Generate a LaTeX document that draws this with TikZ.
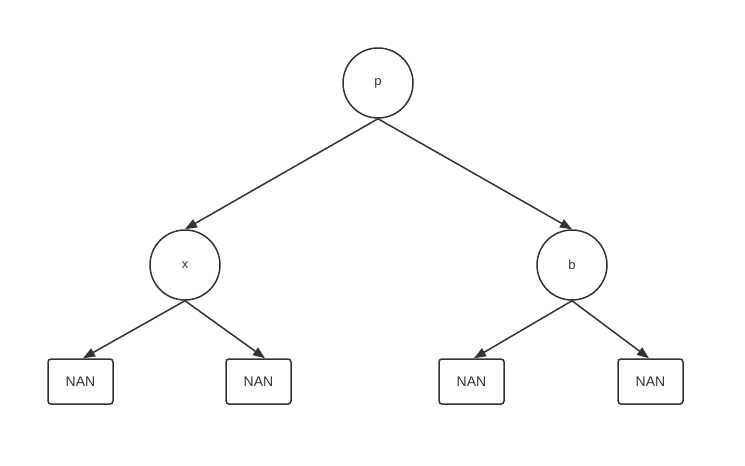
\documentclass[tikz,border=0pt]{standalone}
\usepackage{fontspec}
\setmainfont{Liberation Sans}
\usetikzlibrary{arrows.meta}
\definecolor{ink}{HTML}{333333}

\begin{document}
\begin{tikzpicture}[x=1pt, y=-1pt, line width=1.5pt, draw=ink, text=ink,
	vertex/.style={circle, draw=ink, minimum size=70pt, inner sep=0pt, font=\fontsize{13}{15}\selectfont},
	leaf/.style={rectangle, draw=ink, rounded corners=3pt, minimum width=65pt, minimum height=45pt, inner sep=0pt, font=\fontsize{14}{16}\selectfont},
	edge/.style={ink, -{Triangle[length=12pt,width=9pt]}}]
	\useasboundingbox (0,0) rectangle (745,466);
	
\node[vertex] (P) at (378,83) {p};
\node[vertex] (X) at (185,265) {x};
\node[vertex] (B) at (572,265) {b};
	
\node[leaf] (N1) at (80.5,381.5) {NAN};
\node[leaf] (N2) at (258.5,381.5) {NAN};
\node[leaf] (N3) at (471.5,381.5) {NAN};
\node[leaf] (N4) at (650.5,381.5) {NAN};
	
\draw[edge] (P.south) -- (X.north);
\draw[edge] (P.south) -- (B.north);
	
\draw[edge] (X.south) -- ([xshift=2.5pt]N1.north);
\draw[edge] (X.south) -- ([xshift=6.5pt]N2.north);
\draw[edge] (B.south) -- ([xshift=2.5pt]N3.north);
\draw[edge] (B.south) -- ([xshift=-1.5pt]N4.north);

\end{tikzpicture}
\end{document}
